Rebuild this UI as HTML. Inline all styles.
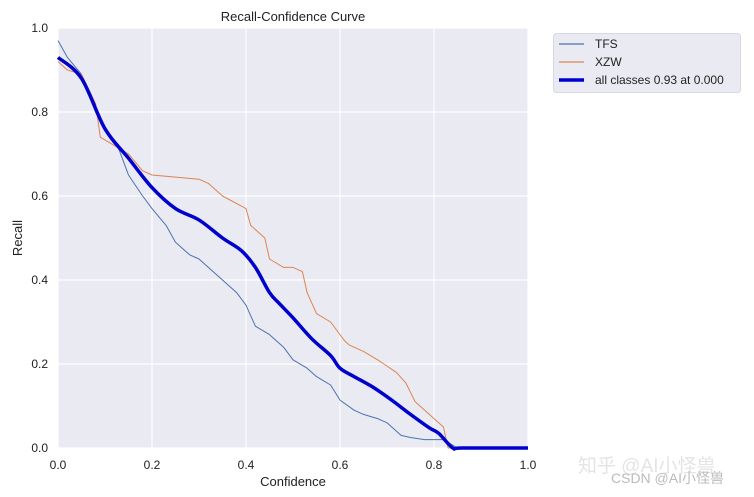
<!DOCTYPE html>
<html><head><meta charset="utf-8"><style>
html,body{margin:0;padding:0;background:#fff;}
svg{display:block;font-family:"Liberation Sans","Noto Sans CJK SC",sans-serif;}
</style></head><body>
<svg id="chart" width="754" height="497" viewBox="0 0 754 497">
<rect x="58" y="28" width="470" height="420" fill="#eaeaf2"/>
<g id="grid"></g>
<g id="ticks"></g>
<g id="series"></g>
<text x="293" y="21" text-anchor="middle" font-size="13" fill="#222">Recall-Confidence Curve</text>
<text x="293" y="486" text-anchor="middle" font-size="13" fill="#222">Confidence</text>
<text x="22" y="238" text-anchor="middle" font-size="13" fill="#222" transform="rotate(-90 22 238)">Recall</text>
<g>
<rect x="553.5" y="33.5" width="187" height="59" rx="3" fill="#eaeaf2" stroke="#d8d8e0"/>
<line x1="559" y1="44" x2="584" y2="44" stroke="#4c72b0" stroke-width="1.2"/>
<text x="595" y="48" font-size="12" fill="#222">TFS</text>
<line x1="559" y1="62" x2="584" y2="62" stroke="#dd8452" stroke-width="1.2"/>
<text x="595" y="66" font-size="12" fill="#222">XZW</text>
<line x1="559" y1="80" x2="584" y2="80" stroke="#0000cd" stroke-width="3.5"/>
<text x="595" y="84" font-size="12" fill="#222">all classes 0.93 at 0.000</text>
</g>
<text x="578" y="472" font-size="19" fill="#e4e4e4">知乎 @AI小怪兽</text>
<text x="611" y="483" font-size="14" fill="#bbbbbb">CSDN @AI小怪兽</text>
</svg>
<script>
const xTicks=[0,0.2,0.4,0.6,0.8,1.0];
const yTicks=[0,0.2,0.4,0.6,0.8,1.0];
const xTickLabels=["0.0","0.2","0.4","0.6","0.8","1.0"];
const yTickLabels=["0.0","0.2","0.4","0.6","0.8","1.0"];
const tfsX=[0,0.02,0.05,0.08,0.1,0.13,0.15,0.18,0.2,0.23,0.25,0.28,0.3,0.33,0.35,0.38,0.4,0.42,0.45,0.48,0.5,0.53,0.55,0.58,0.6,0.63,0.65,0.68,0.7,0.73,0.75,0.78,0.82,0.85,1.0];
const tfsY=[0.97,0.93,0.89,0.8,0.76,0.71,0.65,0.6,0.57,0.53,0.49,0.46,0.45,0.42,0.40,0.37,0.34,0.29,0.27,0.24,0.21,0.19,0.17,0.15,0.114,0.09,0.08,0.07,0.06,0.03,0.025,0.02,0.02,0.0,0.0];
const xzwX=[0,0.02,0.05,0.08,0.09,0.12,0.15,0.18,0.2,0.3,0.32,0.35,0.4,0.41,0.44,0.45,0.48,0.5,0.52,0.53,0.55,0.58,0.61,0.62,0.65,0.68,0.72,0.74,0.76,0.8,0.82,0.83,0.85,1.0];
const xzwY=[0.92,0.9,0.89,0.82,0.74,0.72,0.7,0.66,0.65,0.64,0.63,0.6,0.57,0.53,0.5,0.45,0.43,0.43,0.42,0.37,0.32,0.3,0.255,0.245,0.23,0.21,0.18,0.155,0.11,0.07,0.05,0.0,0.0,0.0];
const allX=[0,0.05,0.1,0.15,0.2,0.25,0.3,0.35,0.39,0.42,0.45,0.47,0.5,0.54,0.58,0.6,0.63,0.67,0.71,0.75,0.79,0.81,0.84,0.86,1.0];
const allY=[0.93,0.88,0.76,0.69,0.62,0.57,0.543,0.5,0.47,0.43,0.37,0.345,0.31,0.26,0.22,0.19,0.17,0.145,0.114,0.08,0.048,0.035,0.0,0.0,0.0];
const X0=58,X1=528,Y0=448,Y1=28;
function sx(v){return X0+v*(X1-X0);}
function sy(v){return Y0-v*(Y0-Y1);}
const NS="http://www.w3.org/2000/svg";
const grid=document.getElementById('grid'),ticks=document.getElementById('ticks'),series=document.getElementById('series');
xTicks.forEach((t,i)=>{
 const l=document.createElementNS(NS,'line');
 l.setAttribute('x1',sx(t));l.setAttribute('x2',sx(t));l.setAttribute('y1',Y1);l.setAttribute('y2',Y0);
 l.setAttribute('stroke','#fff');l.setAttribute('stroke-width','1.2');
 
 
 grid.appendChild(l);
 const tx=document.createElementNS(NS,'text');
 tx.setAttribute('x',sx(t));tx.setAttribute('y',469);tx.setAttribute('text-anchor','middle');tx.setAttribute('font-size','12');tx.setAttribute('fill','#222');
 tx.textContent=xTickLabels[i];
 
 
 ticks.appendChild(tx);
});
yTicks.forEach((t,i)=>{
 const l=document.createElementNS(NS,'line');
 l.setAttribute('x1',X0);l.setAttribute('x2',X1);l.setAttribute('y1',sy(t));l.setAttribute('y2',sy(t));
 l.setAttribute('stroke','#fff');l.setAttribute('stroke-width','1.2');
 
 
 grid.appendChild(l);
 const tx=document.createElementNS(NS,'text');
 tx.setAttribute('x',48);tx.setAttribute('y',sy(t)+4);tx.setAttribute('text-anchor','end');tx.setAttribute('font-size','12');tx.setAttribute('fill','#222');
 tx.textContent=yTickLabels[i];
 
 
 ticks.appendChild(tx);
});
function addLine(xs,ys,color,w,name,smooth){
 const px=xs.map(sx),py=ys.map(sy);
 let d='M'+px[0]+','+py[0];
 for(let i=1;i<px.length;i++){
  if(smooth){
   const i0=Math.max(0,i-2),i3=Math.min(px.length-1,i+1);
   const c1x=px[i-1]+(px[i]-px[i0])/6,c1y=py[i-1]+(py[i]-py[i0])/6;
   const c2x=px[i]-(px[i3]-px[i-1])/6,c2y=py[i]-(py[i3]-py[i-1])/6;
   d+=' C'+c1x+','+c1y+' '+c2x+','+c2y+' '+px[i]+','+py[i];
  } else d+=' L'+px[i]+','+py[i];
 }
 const p=document.createElementNS(NS,'path');
 p.setAttribute('d',d);p.setAttribute('fill','none');p.setAttribute('stroke',color);p.setAttribute('stroke-width',w);p.setAttribute('stroke-linejoin','round');
 
 
 series.appendChild(p);
}
addLine(tfsX,tfsY,'#4c72b0',1,'tfs-line',false);
addLine(xzwX,xzwY,'#dd8452',1,'xzw-line',false);
addLine(allX,allY,'#0000cd',3.5,'all-classes-line',true);
</script>
</body></html>
